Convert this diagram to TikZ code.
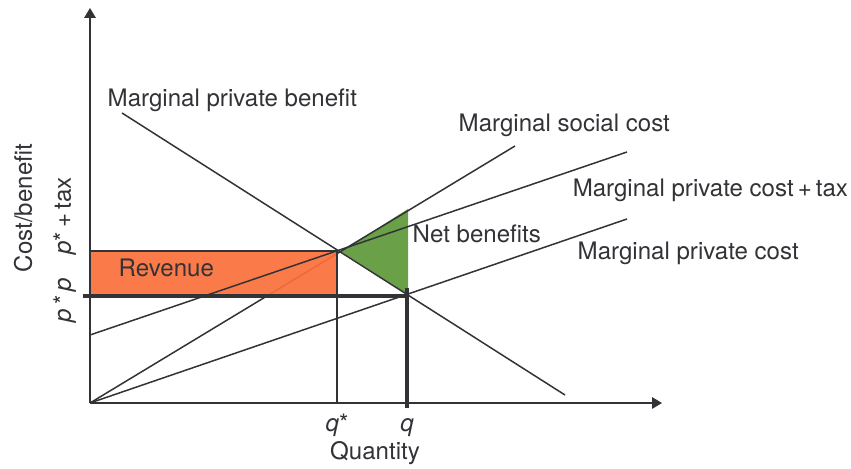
\documentclass[tikz,border=0pt]{standalone}
\usepackage{fontspec}
\setmainfont{TeX Gyre Heros}
\usetikzlibrary{arrows.meta}
\definecolor{umsatz}{RGB}{250,112,58}
\definecolor{nutzen}{RGB}{106,160,72}
\definecolor{strich}{RGB}{50,50,55}
\begin{document}
\begin{tikzpicture}[line width=0.85pt,draw=strich,
		lbl/.style={font=\fontsize{13.7}{16}\selectfont,text=strich,inner sep=0pt},
		dick/.style={line width=2.3pt,draw=strich}]
		\useasboundingbox (-1.8,-1.32) rectangle (15.22,8.06);
		%Koordinaten
		\coordinate (O) at (0,0);
		\coordinate (ytop) at (0,7.9);
		\coordinate (xend) at (11.44,0);
		\coordinate (mpbA) at (0.64,5.8);
		\coordinate (mpbB) at (9.5,0.16);
		\coordinate (mscB) at (8.5,5.14);
		\coordinate (taxA) at (0,1.36);
		\coordinate (taxB) at (10.74,5.02);
		\coordinate (mpcB) at (10.74,3.68);
		\coordinate (pl) at (-0.14,2.14);
		\coordinate (pr) at (6.34,2.14);
		\coordinate (qs) at (4.94,0);
		\coordinate (qsT) at (4.94,3.04);
		\coordinate (qT) at (6.34,2.3);
		\coordinate (qB) at (6.34,-0.1);
		\coordinate (gA) at (5.02,3.03);
		\coordinate (gT) at (6.36,3.88);
		\coordinate (gB) at (6.36,2.17);
		%Flaechen
		\fill[nutzen] (gA) -- (gT) -- (gB) -- cycle;
		\draw (O) -- (mscB);
		\filldraw[fill=umsatz,fill opacity=0.92,draw=strich] (pl -| O) rectangle (qsT);
		%Kurven
		\draw (mpbA) -- (mpbB);
		\draw (taxA) -- (taxB);
		\draw (O) -- (mpcB);
		\draw (qsT) -- (qs);
		\draw[dick] (pl) -- (pr);
		\draw[dick] (qT) -- (qB);
		%Achsen
		\draw[-{Triangle[length=0.2cm,width=0.23cm]}] (O) -- (ytop);
		\draw[-{Triangle[length=0.2cm,width=0.23cm]}] (O) -- (xend);
		%Beschriftung
		\node[lbl,anchor=base west] (mpb) at (0.34,5.92) {Marginal private benefit};
		\node[lbl,anchor=base west] (msc) at (7.36,5.42) {Marginal social cost};
		\node[lbl,anchor=base west] (tax) at (9.64,4.12) {Marginal private cost\,+\,tax};
		\node[lbl,anchor=base west] (mpc) at (9.74,2.86) {Marginal private cost};
		\node[lbl,anchor=base west] (net) at (6.44,3.2) {Net benefits};
		\node[lbl,anchor=base west] (rev) at (0.56,2.52) {Revenue};
		\node[lbl,anchor=base] (qstar) at (4.94,-0.58) {\textit{q}*};
		\node[lbl,anchor=base] (qq) at (6.34,-0.58) {\textit{q}};
		\node[lbl,anchor=base] (quant) at (5.7,-1.14) {Quantity};
		\node[lbl,anchor=base,rotate=90] (cost) at (-1.16,3.9) {Cost/benefit};
		\node[lbl,anchor=base,rotate=90] (pp) at (-0.38,2.06) {\textit{p}\,*\,\textit{p}};
		\node[lbl,anchor=base,rotate=90] (ptax) at (-0.38,3.74) {\textit{p}*\,+\,tax};
	\end{tikzpicture}
\end{document}
